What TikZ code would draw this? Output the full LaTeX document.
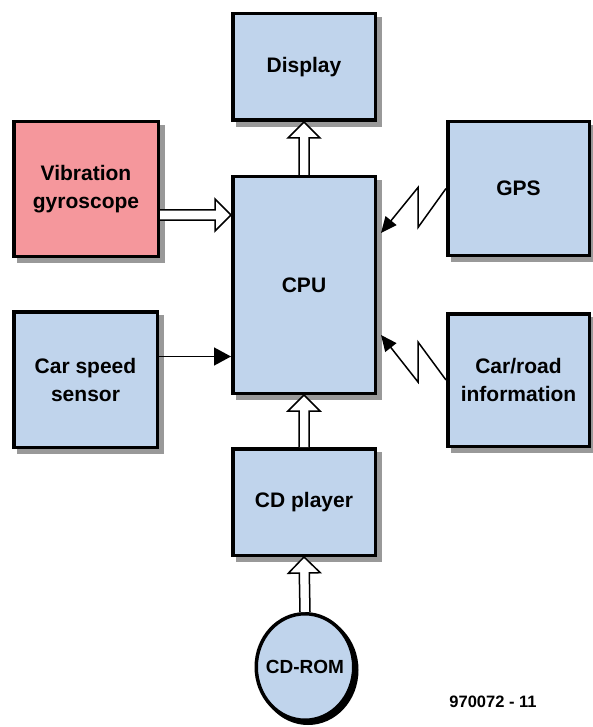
\documentclass[tikz,border=0pt]{standalone}
\usepackage{fontspec}
\setmainfont{Liberation Sans}
\usetikzlibrary{arrows.meta, backgrounds, calc, shapes.geometric}
\definecolor{boxblue}{RGB}{192,212,236}
\definecolor{boxpink}{RGB}{245,151,156}

\begin{document}
\begin{tikzpicture}[x=1pt, y=-1pt, >={Triangle[length=17pt, width=18pt]}]
            \tikzset{
                block/.style={draw, line width=3.5pt, fill=boxblue, minimum width=142.5pt, align=center,
                    font=\fontsize{21}{28}\selectfont\bfseries},
                hollow/.style={line width=1.5pt, fill=white, to path={
                    ($(\tikztostart)!5pt!90:(\tikztotarget)$)
                    -- ($(\tikztotarget)!16pt!(\tikztostart)!5pt!90:(\tikztotarget)$)
                    -- ($(\tikztotarget)!16pt!(\tikztostart)!16pt!90:(\tikztotarget)$)
                    -- (\tikztotarget)
                    -- ($(\tikztotarget)!16pt!(\tikztostart)!16pt!-90:(\tikztotarget)$)
                    -- ($(\tikztotarget)!16pt!(\tikztostart)!5pt!-90:(\tikztotarget)$)
                    -- ($(\tikztostart)!5pt!-90:(\tikztotarget)$)}},
                bolt/.style={line width=1.5pt, line join=miter, -{Triangle[length=16pt, width=14pt]}}
            };
            \useasboundingbox (0,0) rectangle (592,727);
            \node[block, minimum height=106.5pt] (disp) at (304,67) {Display};
            \node[block, fill=boxpink, minimum width=144.5pt, minimum height=134.5pt] (gyro) at (86,189) {Vibration\\gyroscope};
            \node[block, minimum height=216.5pt] (cpu) at (304,285) {CPU};
            \node[block, minimum width=141.5pt, minimum height=133.5pt] (gps) at (518.5,188.5) {GPS};
            \node[block, minimum width=143.5pt, minimum height=135.5pt] (speed) at (85.5,379.5) {Car speed\\sensor};
            \node[block, minimum width=141.5pt, minimum height=132.5pt] (road) at (518.5,380) {Car/road\\information};
            \node[block, minimum height=106.5pt] (player) at (304,502) {CD player};
            \node[ellipse, draw, line width=3.5pt, fill=boxblue, inner sep=0pt,
                minimum width=97.5pt, minimum height=106.5pt,
                label={[font=\fontsize{19}{22}\selectfont\bfseries]center:CD-ROM}] (rom) at (305,667) {};
            \node[font=\fontsize{16.5}{20}\selectfont\bfseries] (code) at (493,702) {970072 - 11};
            % shadows
            \begin{scope}[on background layer]
                \foreach \n in {disp, gyro, cpu, gps, speed, road, player}
                    \fill[gray!80] ([shift={(5,5)}]\n.south west) rectangle ([shift={(5,5)}]\n.north east);
                \fill ([shift={(3,3)}]rom.center) ellipse [x radius=50.5, y radius=55];
            \end{scope}
            % links into the CPU
            \draw[hollow] (cpu.north) to (disp.south);
            \draw[hollow] ([yshift=-26pt]gyro.east) to ([yshift=-26pt]gyro.east -| cpu.west);
            \draw[line width=1.5pt, ->] ([yshift=23pt]speed.east) -- ([yshift=23pt]speed.east -| cpu.west);
            \draw[bolt] (gps.west) -- ++(-28,39) -- ++(0,-40) -- ([shift={(4,-52)}]cpu.east);
            \draw[bolt] (road.west) -- ++(-28,-38) -- ++(0,40) -- ([shift={(4,50)}]cpu.east);
            \draw[hollow] (player.north) to (cpu.south);
            \draw[hollow] (rom.north) to (player.south);
        \end{tikzpicture}
\end{document}
